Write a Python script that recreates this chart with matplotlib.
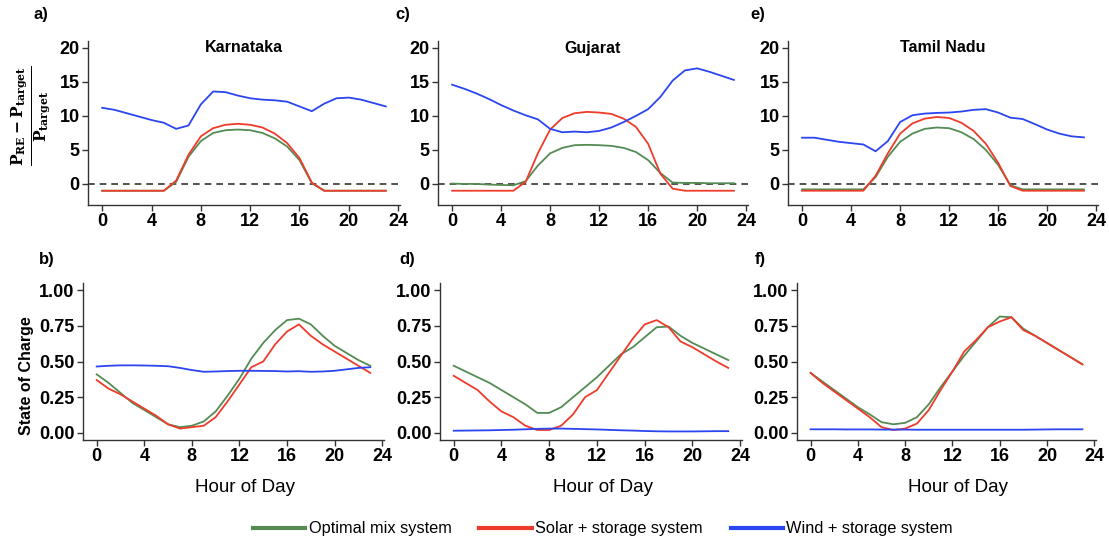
import matplotlib
matplotlib.use('Agg')
import matplotlib.pyplot as plt
from matplotlib.lines import Line2D

plt.rcParams['font.family'] = ['Liberation Sans', 'DejaVu Sans']
plt.rcParams['mathtext.fontset'] = 'dejavuserif'

hours = list(range(24))

# relative excess generation (P_RE - P_target)/P_target
kar_opt = [-1, -1, -1, -1, -1, -1, 0.3, 4.0, 6.3, 7.5, 7.9, 8.0, 7.9, 7.5, 6.7, 5.5, 3.5, 0.1,
           -1, -1, -1, -1, -1, -1]
kar_sol = [-1, -1, -1, -1, -1, -1, 0.5, 4.3, 7.0, 8.2, 8.7, 8.85, 8.7, 8.3, 7.4, 6.0, 3.8, 0.2,
           -1, -1, -1, -1, -1, -1]
kar_wind = [11.2, 10.9, 10.4, 9.9, 9.4, 9.0, 8.1, 8.6, 11.7, 13.6, 13.5, 13.0, 12.6, 12.4, 12.3,
            12.1, 11.4, 10.7, 11.8, 12.6, 12.7, 12.4, 11.9, 11.4]

guj_opt = [0.05, 0.0, 0.0, -0.1, -0.15, -0.2, 0.4, 2.7, 4.5, 5.3, 5.7, 5.75, 5.7, 5.6, 5.3, 4.7,
           3.5, 1.6, 0.2, 0.15, 0.15, 0.1, 0.1, 0.1]
guj_sol = [-1, -1, -1, -1, -1, -1, 0.3, 4.5, 8.0, 9.7, 10.4, 10.6, 10.5, 10.3, 9.6, 8.4, 5.9, 1.5,
           -0.7, -1, -1, -1, -1, -1]
guj_wind = [14.6, 14.0, 13.3, 12.5, 11.6, 10.8, 10.1, 9.5, 8.1, 7.6, 7.7, 7.6, 7.8, 8.3, 9.1, 10.0,
            11.0, 12.8, 15.2, 16.7, 17.0, 16.5, 15.9, 15.3]

tn_opt = [-0.8, -0.8, -0.8, -0.8, -0.8, -0.8, 1.0, 4.0, 6.2, 7.4, 8.1, 8.3, 8.2, 7.6, 6.6, 5.0,
          2.8, -0.2, -0.8, -0.8, -0.8, -0.8, -0.8, -0.8]
tn_sol = [-1, -1, -1, -1, -1, -1, 1.2, 4.5, 7.4, 8.9, 9.6, 9.85, 9.7, 9.0, 7.8, 5.9, 3.1, -0.3,
          -1, -1, -1, -1, -1, -1]
tn_wind = [6.8, 6.8, 6.5, 6.2, 6.0, 5.8, 4.8, 6.3, 9.1, 10.1, 10.35, 10.45, 10.5, 10.65, 10.9,
           11.0, 10.5, 9.75, 9.55, 8.8, 8.0, 7.4, 7.0, 6.85]

# state of charge
kar_soc_opt = [0.41, 0.35, 0.28, 0.21, 0.16, 0.11, 0.06, 0.04, 0.05, 0.08, 0.15, 0.26, 0.38, 0.52,
               0.63, 0.72, 0.79, 0.80, 0.76, 0.68, 0.61, 0.56, 0.51, 0.47]
kar_soc_sol = [0.37, 0.31, 0.27, 0.22, 0.17, 0.12, 0.06, 0.03, 0.04, 0.05, 0.11, 0.22, 0.34, 0.46,
               0.50, 0.62, 0.71, 0.76, 0.68, 0.62, 0.57, 0.52, 0.47, 0.42]
kar_soc_wind = [0.465, 0.47, 0.473, 0.473, 0.472, 0.47, 0.467, 0.455, 0.44, 0.428, 0.43, 0.433,
                0.435, 0.435, 0.434, 0.433, 0.43, 0.432, 0.428, 0.43, 0.435, 0.445, 0.455, 0.46]

guj_soc_opt = [0.47, 0.43, 0.39, 0.35, 0.30, 0.25, 0.20, 0.14, 0.14, 0.18, 0.25, 0.32, 0.39, 0.47,
               0.55, 0.60, 0.67, 0.74, 0.745, 0.68, 0.63, 0.59, 0.55, 0.51]
guj_soc_sol = [0.40, 0.35, 0.30, 0.22, 0.15, 0.11, 0.05, 0.02, 0.02, 0.05, 0.13, 0.25, 0.30, 0.42,
               0.54, 0.66, 0.76, 0.79, 0.74, 0.64, 0.60, 0.55, 0.50, 0.455]
guj_soc_wind = [0.015, 0.016, 0.017, 0.018, 0.02, 0.022, 0.025, 0.028, 0.03, 0.03, 0.028, 0.026,
                0.024, 0.021, 0.018, 0.016, 0.013, 0.011, 0.01, 0.01, 0.01, 0.011, 0.012, 0.012]

tn_soc_opt = [0.42, 0.36, 0.30, 0.24, 0.18, 0.13, 0.075, 0.06, 0.07, 0.11, 0.20, 0.32, 0.43, 0.54,
              0.64, 0.74, 0.815, 0.81, 0.73, 0.68, 0.63, 0.58, 0.53, 0.48]
tn_soc_sol = [0.42, 0.35, 0.29, 0.23, 0.17, 0.11, 0.04, 0.02, 0.03, 0.065, 0.16, 0.30, 0.43, 0.57,
              0.65, 0.74, 0.78, 0.81, 0.72, 0.68, 0.63, 0.58, 0.53, 0.48]
tn_soc_wind = [0.025, 0.025, 0.025, 0.024, 0.024, 0.024, 0.023, 0.023, 0.023, 0.022, 0.022, 0.022,
               0.022, 0.022, 0.022, 0.022, 0.022, 0.022, 0.022, 0.023, 0.024, 0.025, 0.025, 0.025]

states = ['Karnataka', 'Gujarat', 'Tamil Nadu']
top_data = [(kar_opt, kar_sol, kar_wind), (guj_opt, guj_sol, guj_wind), (tn_opt, tn_sol, tn_wind)]
bot_data = [(kar_soc_opt, kar_soc_sol, kar_soc_wind), (guj_soc_opt, guj_soc_sol, guj_soc_wind),
            (tn_soc_opt, tn_soc_sol, tn_soc_wind)]
series_names = ['Optimal mix system', 'Solar + storage system', 'Wind + storage system']
colors = ['#548b54', '#ee3b2a', '#2b45f0']
x_ticks = [0, 4, 8, 12, 16, 20, 24]

W, H = 1109, 541
fig = plt.figure(figsize=(W / 100, H / 100), dpi=100)


def rect(l, t, r, b):
    return [l / W, 1 - b / H, (r - l) / W, (b - t) / H]


def style(ax):
    for s in ['top', 'right']:
        ax.spines[s].set_visible(False)
    for s in ['left', 'bottom']:
        ax.spines[s].set_color('#333333')
        ax.spines[s].set_linewidth(1.0)
    ax.tick_params(direction='out', length=4, width=1, color='#333333', pad=2,
                   labelsize=13)
    for lab in ax.get_xticklabels() + ax.get_yticklabels():
        lab.set_fontweight('bold')
    ax.set_xlim(-1.15, 24.15)
    ax.set_xticks(x_ticks)
    ax.set_xticklabels([str(t) for t in x_ticks], fontweight='bold')


top_pos = [(88, 400), (438, 748), (788, 1098)]
bot_pos = [(83, 384), (440, 742), (797, 1096)]
top_letters = [('a)', 33), ('c)', 395), ('e)', 750)]
bot_letters = [('b)', 39), ('d)', 399), ('f)', 755)]
xlabel_centers = [245, 603, 958]

for i in range(3):
    ax = fig.add_axes(rect(top_pos[i][0], 40.5, top_pos[i][1], 205))
    ax.axhline(0, color='#333333', lw=1.2, ls=(0, (4, 3)), zorder=1)
    for vals, c in zip(top_data[i], colors):
        ax.plot(hours, vals, color=c, lw=1.3, zorder=2)
    ax.set_ylim(-3.1, 21.1)
    ax.set_yticks([0, 5, 10, 15, 20])
    ax.set_yticklabels(['0', '5', '10', '15', '20'], fontweight='bold')
    style(ax)
    ax.text(0.5, 1.0, states[i], transform=ax.transAxes, ha='center', va='top',
            fontsize=11.5, fontweight='bold')
    fig.text(top_letters[i][1] / W, 1 - 15 / H, top_letters[i][0], ha='left', va='center',
             fontsize=12, fontweight='bold')

    ax = fig.add_axes(rect(bot_pos[i][0], 283, bot_pos[i][1], 440))
    for vals, c in zip(bot_data[i], colors):
        ax.plot(hours, vals, color=c, lw=1.3)
    ax.set_ylim(-0.05, 1.05)
    ax.set_yticks([0, 0.25, 0.5, 0.75, 1.0])
    ax.set_yticklabels(['0.00', '0.25', '0.50', '0.75', '1.00'], fontweight='bold')
    style(ax)
    fig.text(bot_letters[i][1] / W, 1 - 259 / H, bot_letters[i][0], ha='left', va='center',
             fontsize=12, fontweight='bold')
    fig.text(xlabel_centers[i] / W, 1 - 487 / H, 'Hour of Day', ha='center', va='center',
             fontsize=13.5)

fig.text(31 / W, 1 - 116 / H, r'$\mathbf{\frac{P_{RE}-P_{target}}{P_{target}}}$',
         rotation=90, ha='center', va='center', fontsize=16)
fig.text(26 / W, 1 - 376 / H, 'State of Charge', rotation=90, ha='center', va='center',
         fontsize=11.5, fontweight='bold')

handles = [Line2D([0], [0], color=c, lw=3) for c in colors]
fig.legend(handles, series_names, loc='center', bbox_to_anchor=(603 / W, 1 - 529 / H),
           ncol=3, frameon=False, fontsize=11.8, handlelength=3.2, handletextpad=0.2,
           columnspacing=1.7)

fig.savefig('out.png', dpi=100)
